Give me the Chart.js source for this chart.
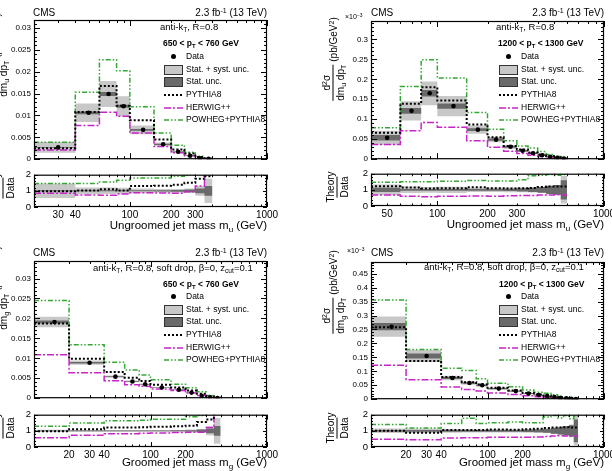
<!DOCTYPE html>
<html><head><meta charset="utf-8">
<script src="https://cdn.jsdelivr.net/npm/chart.js@4/dist/chart.umd.min.js"></script>
<style>
html,body{margin:0;padding:0;background:#fff;}
#page{position:relative;width:612px;height:471px;overflow:hidden;font-family:"Liberation Sans",Arial,Helvetica,sans-serif;color:#000;background:#fff}
canvas{position:absolute}
.t{position:absolute;white-space:nowrap;line-height:1;transform:translateY(-50%)}
sub,sup{font-size:70%;line-height:0;position:relative;vertical-align:baseline}
sub{top:0.35em} sup{top:-0.45em}
.yt{position:absolute;display:flex;align-items:center;white-space:nowrap;font-size:10px;line-height:1.1;transform:translate(-50%,-50%) rotate(-90deg)}
.fr{display:inline-flex;flex-direction:column;align-items:center}
.nu{padding-bottom:1px}
.de{border-top:1px solid #000;padding-top:1px}
.un{margin-left:3px}
.lg{position:absolute}
</style></head><body><div id="page"></div>
<script>
// ---------------- Top-left: ungroomed jet mass, 650 < pT < 760 GeV
const tlEdges  = [20,40,60,80,100,150,200,250,300,350,400];
const tlData   = [0.0027,0.0106,0.0149,0.0121,0.0067,0.0034,0.0017,0.0008,0.0002,0.0001];
const tlPythia = [0.0025,0.0108,0.0167,0.0122,0.0089,0.0045,0.0022,0.0013,0.0005,0.0002];
const tlHerwig = [0.0021,0.0077,0.0107,0.0098,0.0060,0.0029,0.0015,0.0008,0.0003,0.0001];
const tlPowheg = [0.0039,0.0153,0.0227,0.0202,0.0120,0.0060,0.0032,0.0016,0.0007,0.0002];
const tlUncTot = [0.45,0.20,0.20,0.19,0.15,0.12,0.12,0.14,0.30,0.75];
const tlUncStat= [0.04,0.03,0.03,0.03,0.03,0.04,0.05,0.08,0.15,0.30];
const tlRatioPythia = [0.97,1.02,1.10,1.02,1.30,1.32,1.38,1.50,1.75,1.90];
const tlRatioHerwig = [0.85,0.75,0.72,0.80,0.88,0.87,0.85,0.95,1.30,2.50];
const tlRatioPowheg = [1.45,1.46,1.55,1.66,1.80,1.80,1.90,2.00,2.30,2.50];
const tlXTicks = [30,40,100,200,300,1000];

// ---------------- Top-right: ungroomed jet mass, 1200 < pT < 1300 GeV (x10^-3)
const trEdges  = [40,60,80,100,150,200,250,300,350,400,450,500,550,600];
const trData   = [0.0535,0.121,0.165,0.133,0.074,0.049,0.031,0.021,0.015,0.010,0.006,0.0035,0.0015];
const trPythia = [0.066,0.139,0.180,0.147,0.087,0.055,0.033,0.024,0.017,0.012,0.008,0.005,0.002];
const trHerwig = [0.037,0.071,0.092,0.080,0.046,0.030,0.020,0.014,0.010,0.007,0.004,0.0025,0.001];
const trPowheg = [0.079,0.182,0.249,0.203,0.117,0.075,0.046,0.033,0.028,0.019,0.012,0.007,0.003];
const trUncTot = [0.33,0.20,0.18,0.19,0.14,0.14,0.15,0.15,0.16,0.18,0.20,0.30,0.85];
const trUncStat= [0.13,0.06,0.05,0.05,0.05,0.06,0.07,0.10,0.13,0.18,0.25,0.30,0.60];
const trRatioPythia = [1.22,1.14,1.09,1.10,1.16,1.10,1.08,1.10,1.12,1.18,1.20,1.20,1.20];
const trRatioHerwig = [0.68,0.60,0.57,0.60,0.62,0.60,0.63,0.65,0.65,0.68,0.68,0.70,0.68];
const trRatioPowheg = [1.47,1.50,1.50,1.53,1.58,1.55,1.55,1.62,1.88,1.90,1.95,1.90,1.95];
const trXTicks = [50,100,200,300,1000];

// ---------------- Bottom-left: groomed jet mass, 650 < pT < 760 GeV
const blEdges  = [10,20,40,60,80,100,150,200,250,300,350,400];
const blData   = [0.0191,0.0089,0.0054,0.0042,0.0035,0.0027,0.0021,0.0014,0.0006,0.0002,0.00005];
const blPythia = [0.0187,0.0099,0.0066,0.0051,0.0043,0.0034,0.0027,0.0019,0.0011,0.0005,0.0002];
const blHerwig = [0.0109,0.0064,0.0044,0.0034,0.0030,0.0023,0.0019,0.0013,0.0007,0.0003,0.0001];
const blPowheg = [0.0245,0.0134,0.0090,0.0071,0.0058,0.0046,0.0035,0.0026,0.0016,0.0007,0.0002];
const blUncTot = [0.07,0.06,0.05,0.05,0.05,0.05,0.06,0.08,0.12,0.27,0.80];
const blUncStat= [0.02,0.02,0.02,0.02,0.02,0.02,0.03,0.04,0.08,0.15,0.30];
const blRatioPythia = [0.98,1.10,1.20,1.20,1.22,1.25,1.28,1.32,1.55,1.70,2.20];
const blRatioHerwig = [0.58,0.72,0.82,0.82,0.85,0.87,0.90,0.92,0.92,1.20,2.20];
const blRatioPowheg = [1.28,1.48,1.62,1.62,1.66,1.72,1.72,1.88,1.95,2.20,2.50];
const blXTicks = [20,30,40,100,200,1000];

// ---------------- Bottom-right: groomed jet mass, 1200 < pT < 1300 GeV (x10^-3)
const brEdges  = [10,20,40,60,80,100,150,200,250,300,350,400,450,500,550,600];
const brData   = [0.26,0.155,0.076,0.058,0.050,0.038,0.029,0.020,0.015,0.011,0.008,0.005,0.003,0.0015,0.0008];
const brPythia = [0.258,0.137,0.080,0.061,0.053,0.041,0.031,0.022,0.017,0.013,0.0095,0.006,0.0037,0.0018,0.001];
const brHerwig = [0.122,0.070,0.044,0.035,0.029,0.022,0.017,0.012,0.009,0.007,0.005,0.0035,0.002,0.001,0.0005];
const brPowheg = [0.356,0.178,0.111,0.103,0.073,0.057,0.045,0.033,0.025,0.021,0.016,0.009,0.0055,0.003,0.0015];
const brUncTot = [0.14,0.14,0.11,0.10,0.10,0.10,0.10,0.11,0.13,0.15,0.20,0.25,0.30,0.40,0.90];
const brUncStat= [0.05,0.06,0.05,0.05,0.05,0.05,0.06,0.07,0.09,0.12,0.18,0.22,0.28,0.35,0.70];
const brRatioPythia = [1.00,0.88,1.05,1.05,1.06,1.08,1.07,1.10,1.13,1.18,1.20,1.20,1.22,1.20,1.20];
const brRatioHerwig = [0.48,0.45,0.55,0.58,0.58,0.60,0.60,0.60,0.62,0.65,0.68,0.70,0.68,0.66,0.66];
const brRatioPowheg = [1.40,1.18,1.45,1.78,1.45,1.50,1.55,1.50,1.50,1.85,1.95,1.80,1.95,1.75,1.90];
const brXTicks = [20,30,40,100,200,1000];

const legendNames = ['Data','Stat. + syst. unc.','Stat. unc.','PYTHIA8','HERWIG++','POWHEG+PYTHIA8'];

// ---------------- styles
const FAM = '"Liberation Sans", Arial, Helvetica, sans-serif';
Chart.defaults.font.family = FAM;
Chart.defaults.color = '#000';
const C_PY = '#000000', C_HW = '#c824c8', C_PW = '#34a834', C_LT = '#c8c8c8', C_DK = '#6a6a6a';
const D_PY = [2,2], D_HW = [7,2,2,2], D_PW = [5,2,1.5,2,1.5,2];
const page = document.getElementById('page');

function stepPts(edges, vals) {
  const p = vals.map((v,i)=>({x:edges[i], y:v}));
  p.push({x:edges[edges.length-1], y:vals[vals.length-1]});
  return p;
}
function centers(edges) { return edges.slice(0,-1).map((e,i)=>(e+edges[i+1])/2); }
function lineDs(pts, color, dash, width, order) {
  return {data:pts, stepped:'before', borderColor:color, borderDash:dash, borderWidth:width, pointRadius:0, fill:false, order};
}
function bandDs(up, lo, color, order) {
  return [
    {data:up, stepped:'before', borderColor:'rgba(0,0,0,0)', borderWidth:0.01, backgroundColor:color, pointRadius:0, fill:'+1', order},
    {data:lo, stepped:'before', borderColor:'rgba(0,0,0,0)', borderWidth:0.01, backgroundColor:'rgba(0,0,0,0)', pointRadius:0, fill:false, order}
  ];
}
function mainSets(e, d, py, hw, pw, tot, st) {
  return [
    {data:centers(e).map((x,i)=>({x, y:d[i]})), showLine:false, pointRadius:2.3, pointBackgroundColor:'#000', pointBorderWidth:0, fill:false, order:0},
    lineDs(stepPts(e,py), C_PY, D_PY, 2, 1),
    lineDs(stepPts(e,hw), C_HW, D_HW, 1.5, 2),
    lineDs(stepPts(e,pw), C_PW, D_PW, 1.5, 3),
    ...bandDs(stepPts(e, d.map((v,i)=>v*(1+st[i]))), stepPts(e, d.map((v,i)=>v*(1-st[i]))), C_DK, 4),
    ...bandDs(stepPts(e, d.map((v,i)=>v*(1+tot[i]))), stepPts(e, d.map((v,i)=>v*(1-tot[i]))), C_LT, 5)
  ];
}
function ratioSets(e, rpy, rhw, rpw, tot, st) {
  return [
    lineDs(stepPts(e,rpy), C_PY, D_PY, 2, 1),
    lineDs(stepPts(e,rhw), C_HW, D_HW, 1.5, 2),
    lineDs(stepPts(e,rpw), C_PW, D_PW, 1.5, 3),
    ...bandDs(stepPts(e, st.map(u=>1+u)), stepPts(e, st.map(u=>1-u)), C_DK, 4),
    ...bandDs(stepPts(e, tot.map(u=>1+u)), stepPts(e, tot.map(u=>1-u)), C_LT, 5)
  ];
}

const frameTicks = {
  id:'frameTicks',
  afterDraw(chart, args, o) {
    const {ctx, chartArea:a} = chart;
    const x = chart.scales.x, y = chart.scales.y;
    ctx.save();
    ctx.strokeStyle = '#000'; ctx.lineWidth = 1;
    ctx.beginPath();
    const yl = o.ratio ? 4 : 6, ys = o.ratio ? 2 : 3;
    const step = o.ystep / o.ydiv;
    for (let k = 0; k*step <= y.max + 1e-12; k++) {
      const py = Math.round(y.getPixelForValue(k*step)) + 0.5;
      const len = (k % o.ydiv === 0) ? yl : ys;
      ctx.moveTo(a.left, py); ctx.lineTo(a.left+len, py);
      ctx.moveTo(a.right, py); ctx.lineTo(a.right-len, py);
    }
    const xl = o.ratio ? 5 : 6, xs = o.ratio ? 2.5 : 3;
    for (const dec of [1,10,100,1000]) {
      for (let m = 1; m <= 9; m++) {
        const v = m*dec;
        if (v < x.min || v > x.max) continue;
        const px = Math.round(x.getPixelForValue(v)) + 0.5;
        const len = m === 1 ? xl : xs;
        ctx.moveTo(px, a.bottom); ctx.lineTo(px, a.bottom-len);
        ctx.moveTo(px, a.top); ctx.lineTo(px, a.top+len);
      }
    }
    ctx.stroke();
    ctx.lineWidth = 1.2;
    ctx.strokeRect(a.left+0.5, a.top+0.5, a.width-1, a.height-1);
    ctx.restore();
  }
};

function fmt(v) { return String(+(+v).toFixed(5)); }

function mk(box, o) {
  const L = 42, T = 8, R = 18, B = o.ratio ? 18 : 4;
  const W = box.w + L + R, H = box.h + T + B;
  const cv = document.createElement('canvas');
  cv.width = W; cv.height = H;
  cv.style.left = (box.x - L) + 'px'; cv.style.top = (box.y - T) + 'px';
  cv.style.width = W + 'px'; cv.style.height = H + 'px';
  page.appendChild(cv);
  const xs = {
    type:'logarithmic', min:o.xmin, max:1000, display: !!o.ratio,
    afterBuildTicks: s => { s.ticks = o.xticks.map(v=>({value:v})); },
    ticks:{autoSkip:false, maxRotation:0, minRotation:0, padding:2, color:'#000', font:{size:10}, callback: v => String(v)},
    grid:{display:false, drawTicks:false}, border:{display:false}
  };
  if (o.ratio) xs.afterFit = s => { s.height = B; };
  new Chart(cv, {
    type:'line',
    data:{datasets:o.datasets},
    options:{
      responsive:false, animation:false, devicePixelRatio:1,
      layout:{padding:{left:0, top:T, right:R, bottom:o.ratio ? 0 : B}},
      plugins:{legend:{display:false}, tooltip:{enabled:false}, filler:{propagate:false},
               frameTicks:{ratio:!!o.ratio, ystep:o.ystep, ydiv:o.ydiv}},
      scales:{
        x: xs,
        y:{type:'linear', min:0, max:o.ymax, afterFit: s => { s.width = L; },
           ticks:{stepSize:o.ystep, includeBounds:false, padding:3, color:'#000', font:{size:o.ratio ? 9.5 : 8}, callback: v => fmt(v)},
           grid:{display:false, drawTicks:false}, border:{display:false}}
      }
    },
    plugins:[frameTicks]
  });
}

function txt(html, x, y, size, opt) {
  opt = opt || {};
  const d = document.createElement('div'); d.className = 't'; d.innerHTML = html;
  d.style.fontSize = size + 'px';
  if (opt.right) d.style.right = (612 - x) + 'px'; else d.style.left = x + 'px';
  d.style.top = y + 'px';
  if (opt.bold) d.style.fontWeight = 'bold';
  page.appendChild(d);
}
function ytitle(cx, cy, num, den, unit) {
  const d = document.createElement('div'); d.className = 'yt';
  d.style.left = cx + 'px'; d.style.top = cy + 'px';
  d.innerHTML = '<span class="fr"><span class="nu">' + num + '</span><span class="de">' + den + '</span></span>' + (unit ? '<span class="un">' + unit + '</span>' : '');
  page.appendChild(d);
}
function legend(bx, tx, rows) {
  const el = (html) => { const d = document.createElement('div'); d.className = 'lg'; d.innerHTML = html; page.appendChild(d); return d; };
  let d = el(''); Object.assign(d.style, {left:(bx+9-2.5)+'px', top:(rows[0]-2.5)+'px', width:'5px', height:'5px', borderRadius:'50%', background:'#000'});
  d = el(''); Object.assign(d.style, {left:bx+'px', top:(rows[1]-4.5)+'px', width:'17px', height:'8px', background:C_LT, border:'1px solid #333'});
  d = el(''); Object.assign(d.style, {left:bx+'px', top:(rows[2]-4.5)+'px', width:'17px', height:'8px', background:C_DK, border:'1px solid #333'});
  const ln = (y, c, dash, w) => { const s = el('<svg width="19" height="4"><line x1="0" y1="2" x2="19" y2="2" stroke="' + c + '" stroke-width="' + w + '" stroke-dasharray="' + dash.join(' ') + '"/></svg>'); Object.assign(s.style, {left:bx+'px', top:(y-2)+'px', lineHeight:'0'}); };
  ln(rows[3], C_PY, D_PY, 2); ln(rows[4], C_HW, D_HW, 1.5); ln(rows[5], C_PW, D_PW, 1.5);
  legendNames.forEach((n,i) => txt(n, tx, rows[i], 8.5));
}

// ---------------- build the four panels
mk({x:34, y:20, w:233, h:143}, {xmin:20, xticks:tlXTicks, ymax:0.0318, ystep:0.005, ydiv:5,
   datasets:mainSets(tlEdges, tlData, tlPythia, tlHerwig, tlPowheg, tlUncTot, tlUncStat)});
mk({x:34, y:174, w:233, h:33}, {ratio:true, xmin:20, xticks:tlXTicks, ymax:2, ystep:1, ydiv:5,
   datasets:ratioSets(tlEdges, tlRatioPythia, tlRatioHerwig, tlRatioPowheg, tlUncTot, tlUncStat)});

mk({x:371, y:21, w:233, h:142}, {xmin:40, xticks:trXTicks, ymax:0.346, ystep:0.05, ydiv:5,
   datasets:mainSets(trEdges, trData, trPythia, trHerwig, trPowheg, trUncTot, trUncStat)});
mk({x:371, y:173, w:233, h:33}, {ratio:true, xmin:40, xticks:trXTicks, ymax:2, ystep:1, ydiv:5,
   datasets:ratioSets(trEdges, trRatioPythia, trRatioHerwig, trRatioPowheg, trUncTot, trUncStat)});

mk({x:34, y:261, w:233, h:141}, {xmin:10, xticks:blXTicks, ymax:0.0344, ystep:0.005, ydiv:5,
   datasets:mainSets(blEdges, blData, blPythia, blHerwig, blPowheg, blUncTot, blUncStat)});
mk({x:34, y:414, w:233, h:33}, {ratio:true, xmin:10, xticks:blXTicks, ymax:2, ystep:1, ydiv:5,
   datasets:ratioSets(blEdges, blRatioPythia, blRatioHerwig, blRatioPowheg, blUncTot, blUncStat)});

mk({x:371, y:262, w:233, h:141}, {xmin:10, xticks:brXTicks, ymax:0.492, ystep:0.05, ydiv:5,
   datasets:mainSets(brEdges, brData, brPythia, brHerwig, brPowheg, brUncTot, brUncStat)});
mk({x:371, y:414, w:233, h:33}, {ratio:true, xmin:10, xticks:brXTicks, ymax:2, ystep:1, ydiv:5,
   datasets:ratioSets(brEdges, brRatioPythia, brRatioHerwig, brRatioPowheg, brUncTot, brUncStat)});

// ---------------- texts
const lumi = '2.3 fb<sup>-1</sup> (13 TeV)';
const num = 'd<sup>2</sup>σ', unit = '(pb/GeV<sup>2</sup>)';
[[33,13,267],[371,13,604],[33,253,267],[371,253,604]].forEach(([x,y,r]) => { txt('CMS', x, y, 10); txt(lumi, r, y, 10, {right:true}); });
txt('×10<sup>−3</sup>', 345, 16, 7);
txt('×10<sup>−3</sup>', 347, 250, 7);

txt('anti-k<sub>T</sub>, R=0.8', 160, 27, 9.5);
txt('anti-k<sub>T</sub>, R=0.8', 496, 27, 9.5);
txt('anti-k<sub>T</sub>, R=0.8, soft drop, β=0, z<sub>cut</sub>=0.1', 93, 268, 9.5);
txt('anti-k<sub>T</sub>, R=0.8, soft drop, β=0, z<sub>cut</sub>=0.1', 424, 267, 9.5);
txt('650 &lt; p<sub>T</sub> &lt; 760 GeV', 163, 43, 8.5, {bold:true});
txt('1200 &lt; p<sub>T</sub> &lt; 1300 GeV', 498, 43, 8.5, {bold:true});
txt('650 &lt; p<sub>T</sub> &lt; 760 GeV', 163, 284, 8.5, {bold:true});
txt('1200 &lt; p<sub>T</sub> &lt; 1300 GeV', 499, 284, 8.5, {bold:true});

legend(164, 186, [56,69,81,94,107,119]);
legend(499, 521, [56,69,81,94,107,119]);
legend(164, 186, [296,309,321,334,347,359]);
legend(499, 521, [296,309,321,334,347,359]);

txt('Ungroomed jet mass m<sub>u</sub> (GeV)', 267, 226, 11.5, {right:true});
txt('Ungroomed jet mass m<sub>u</sub> (GeV)', 604, 225, 11.5, {right:true});
txt('Groomed jet mass m<sub>g</sub> (GeV)', 267, 463, 11.5, {right:true});
txt('Groomed jet mass m<sub>g</sub> (GeV)', 604, 463, 11.5, {right:true});

ytitle(-4, 55, num, 'dm<sub>u</sub> dp<sub>T</sub>', unit);
ytitle(333, 59, num, 'dm<sub>u</sub> dp<sub>T</sub>', unit);
ytitle(-4, 288, num, 'dm<sub>g</sub> dp<sub>T</sub>', unit);
ytitle(333, 292, num, 'dm<sub>g</sub> dp<sub>T</sub>', unit);
ytitle(3, 188, 'Theory', 'Data');
ytitle(337, 187, 'Theory', 'Data');
ytitle(3, 428, 'Theory', 'Data');
ytitle(337, 428, 'Theory', 'Data');
</script></body></html>
